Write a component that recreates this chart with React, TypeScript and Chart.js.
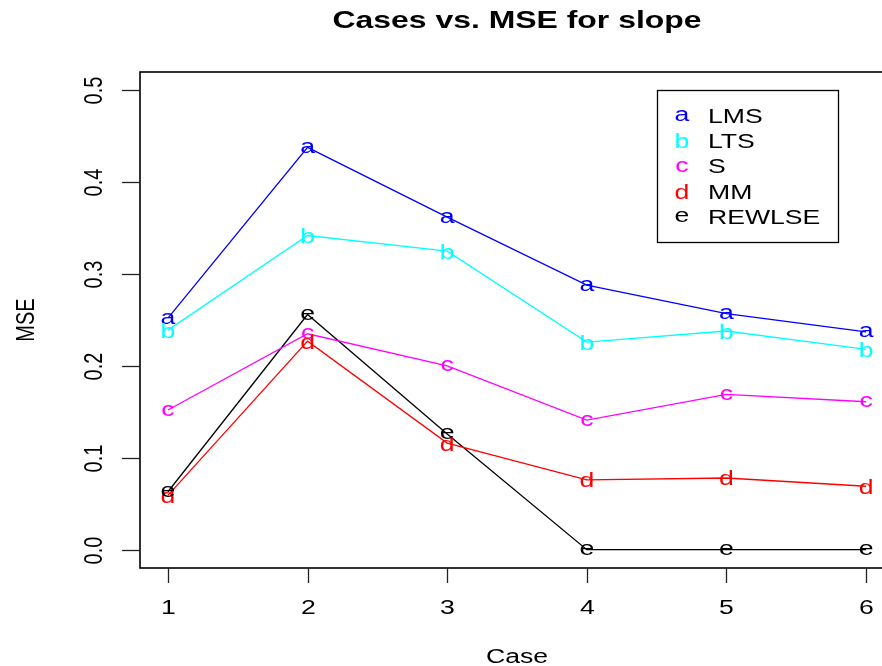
import React, { useEffect, useRef } from "react";
import { Chart, registerables } from "chart.js";

Chart.register(...registerables);

const cases = [1, 2, 3, 4, 5, 6];
const seriesNames = ["LMS", "LTS", "S", "MM", "REWLSE"];
const seriesLetters = ["a", "b", "c", "d", "e"];
const seriesColors = ["#0000FF", "#00FFFF", "#FF00FF", "#FF0000", "#000000"];
const lms = [0.252, 0.438, 0.362, 0.288, 0.257, 0.237];
const lts = [0.239, 0.342, 0.325, 0.226, 0.238, 0.218];
const sEst = [0.152, 0.235, 0.2, 0.141, 0.169, 0.161];
const mm = [0.059, 0.227, 0.116, 0.076, 0.078, 0.069];
const rewlse = [0.063, 0.256, 0.126, 0, 0, 0];
const yTicks = [0, 0.1, 0.2, 0.3, 0.4, 0.5];
const xTicks = [1, 2, 3, 4, 5, 6];
const titleText = "Cases vs. MSE for slope";
const xTitle = "Case";
const yTitle = "MSE";

const FONT = '"Liberation Sans", Arial, Helvetica, sans-serif';
const SX = 1.33;

function drawText(
  ctx: CanvasRenderingContext2D,
  s: string,
  x: number,
  y: number,
  font: string,
  color: string,
  align: CanvasTextAlign,
  rotate = false
) {
  ctx.save();
  ctx.translate(x, y);
  if (rotate) {
    ctx.rotate(-Math.PI / 2);
    ctx.scale(1, SX);
  } else {
    ctx.scale(SX, 1);
  }
  ctx.font = font;
  ctx.fillStyle = color;
  ctx.textAlign = align;
  ctx.textBaseline = "alphabetic";
  ctx.fillText(s, 0, 0);
  ctx.restore();
}

function drawGlyphCentered(
  ctx: CanvasRenderingContext2D,
  s: string,
  x: number,
  y: number,
  font: string,
  color: string
) {
  ctx.save();
  ctx.font = font;
  const m = ctx.measureText(s);
  const asc = m.actualBoundingBoxAscent;
  const desc = m.actualBoundingBoxDescent;
  const base = y + (asc - desc) / 2;
  ctx.translate(x, base);
  ctx.scale(SX, 1);
  ctx.fillStyle = color;
  ctx.textAlign = "center";
  ctx.textBaseline = "alphabetic";
  ctx.fillText(s, 0, 0);
  ctx.restore();
}

const rPlot = {
  id: "rPlot",
  afterDatasetsDraw(chart: any) {
    const ctx: CanvasRenderingContext2D = chart.ctx;
    const xs = chart.scales.x;
    const ys = chart.scales.y;
    const area = chart.chartArea;
    const f20 = `20px ${FONT}`;

    // letters on points
    chart.data.datasets.forEach((ds: any, i: number) => {
      const meta = chart.getDatasetMeta(i);
      meta.data.forEach((pt: any) => {
        drawGlyphCentered(ctx, seriesLetters[i], pt.x, pt.y, f20, seriesColors[i]);
      });
    });

    // box
    ctx.save();
    ctx.strokeStyle = "#000";
    ctx.lineWidth = 1.6;
    ctx.strokeRect(area.left, area.top, area.right - area.left, area.bottom - area.top);

    // y ticks
    ctx.lineWidth = 1.3;
    ctx.strokeStyle = "#222";
    yTicks.forEach((v) => {
      const py = Math.round(ys.getPixelForValue(v)) + 0.5;
      ctx.beginPath();
      ctx.moveTo(area.left - 18, py);
      ctx.lineTo(area.left, py);
      ctx.stroke();
      drawText(ctx, v.toFixed(1), area.left - 38, py, f20, "#000", "center", true);
    });
    // x ticks
    xTicks.forEach((v) => {
      const px = Math.round(xs.getPixelForValue(v)) + 0.5;
      ctx.beginPath();
      ctx.moveTo(px, area.bottom);
      ctx.lineTo(px, area.bottom + 15);
      ctx.stroke();
      drawText(ctx, String(v), px, area.bottom + 46, f20, "#000", "center");
    });
    ctx.restore();

    const cx = (area.left + area.right) / 2;
    const cy = (area.top + area.bottom) / 2;
    drawText(ctx, titleText, cx, 28, `bold 24px ${FONT}`, "#000", "center");
    drawText(ctx, xTitle, cx, 663, f20, "#000", "center");
    drawText(ctx, yTitle, 34, cy, f20, "#000", "center", true);

    // legend
    ctx.save();
    ctx.strokeStyle = "#000";
    ctx.lineWidth = 1.3;
    ctx.strokeRect(657.5, 90.5, 181, 152);
    ctx.restore();
    seriesNames.forEach((name, i) => {
      const ry = 115.5 + i * 25.3;
      drawGlyphCentered(ctx, seriesLetters[i], 682, ry, f20, seriesColors[i]);
      drawText(ctx, name, 708, ry + 7.2, f20, "#000", "left");
    });
  },
};

export default function App() {
  const ref = useRef<HTMLCanvasElement | null>(null);
  useEffect(() => {
    if (!ref.current) return;
    const allSeries = [lms, lts, sEst, mm, rewlse];
    const chart = new Chart(ref.current, {
      type: "line",
      data: {
        datasets: allSeries.map((vals, i) => ({
          label: seriesNames[i],
          data: vals.map((v, j) => ({ x: cases[j], y: v })),
          borderColor: seriesColors[i],
          borderWidth: 1.3,
          pointRadius: 0,
          fill: false,
          tension: 0,
        })),
      },
      options: {
        responsive: false,
        animation: false,
        devicePixelRatio: 1,
        layout: { padding: { left: 140, top: 72, right: 6, bottom: 98 } },
        scales: {
          x: { type: "linear", min: 0.8, max: 6.2, display: false },
          y: { type: "linear", min: -0.02, max: 0.52, display: false },
        },
        plugins: {
          legend: { display: false },
          title: { display: false },
          tooltip: { enabled: false },
        },
      },
      plugins: [rPlot],
    });
    return () => chart.destroy();
  }, []);
  return (
    <div
      style={{
        position: "absolute",
        left: 0,
        top: 0,
        width: 882,
        height: 666,
        overflow: "hidden",
        background: "#fff",
      }}
    >
      <canvas ref={ref} width={900} height={666} style={{ display: "block", width: 900, height: 666 }} />
    </div>
  );
}
